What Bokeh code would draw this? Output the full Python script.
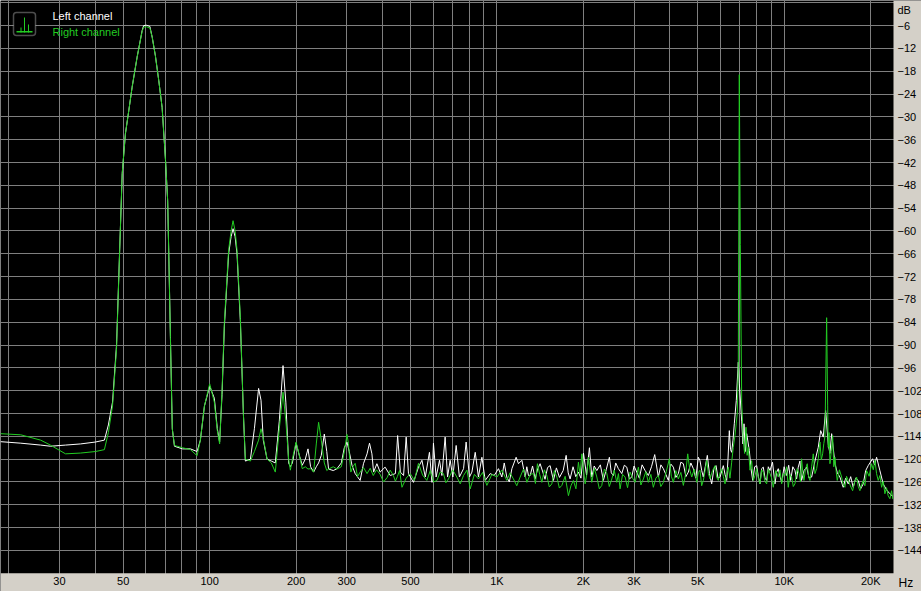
from bokeh.plotting import figure
from bokeh.models import FixedTicker, Label, BoxAnnotation, CustomJSTickFormatter
from bokeh.embed import file_html
from bokeh.resources import INLINE

# ---------------- data ----------------
# Left channel (white), Hz / dB
left_freq = [18.7, 22.0, 25.8, 27.9, 31.5, 35.5, 40.0, 43.0, 44.4, 45.9, 47.4, 48.6, 49.6, 50.9, 52.3,
             53.7, 55.9, 58.2, 58.9, 60.2, 61.9, 63.1, 64.7, 66.5, 68.3, 70.2, 71.4, 72.0, 73.0, 74.1,
             75.4, 80.4, 85.7, 90.4, 92.8, 95.9, 100.0, 103.8, 106.3, 108.3, 110.4, 112.5, 116.4, 118.7,
             120.6, 122.6, 124.5, 127.9, 131.0, 133.1, 138.6, 143.1, 148.0, 150.9, 153.7, 158.4, 163.9,
             169.2, 174.7, 180.0, 184.1, 188.3, 190.9, 194.0, 199.8, 205.1, 210.0, 215.2, 219.9, 224.5,
             230.0, 235.0, 239.4, 244.6, 250.6, 255.6, 259.3, 269.3, 277.4, 287.2, 294.2, 300.6, 306,
             313, 321, 334, 343, 353, 360, 367, 372, 382, 392, 408, 425, 443, 451, 461, 473, 483, 492,
             512, 533, 548, 563, 582, 594, 601, 614, 631, 643, 660, 673, 687, 702, 721, 740, 765, 781,
             802, 818, 840, 862, 886, 910, 947, 978,
             1012, 1040, 1060, 1082, 1104, 1127, 1166, 1188, 1221, 1254, 1270, 1287, 1305, 1330, 1358,
             1385, 1413, 1444, 1470, 1500, 1531, 1572, 1610, 1650, 1700, 1741, 1770, 1797, 1840, 1880,
             1921, 1960, 2000, 2050, 2098, 2138, 2180, 2226, 2290, 2346, 2400, 2462, 2500, 2542, 2590,
             2646, 2719, 2775, 2830, 2890, 2946, 3000, 3066, 3130, 3200, 3278, 3365, 3450, 3541, 3645,
             3720, 3794, 3870, 3950, 4030, 4111, 4195, 4279, 4365, 4454, 4545, 4636, 4730, 4825, 4920,
             5022, 5090, 5160, 5227, 5310, 5397, 5490, 5590, 5690, 5787, 5880, 5975, 6135, 6220, 6304,
             6370, 6438, 6500, 6561, 6630, 6700, 6808, 6918, 6974, 7110, 7180, 7242, 7320, 7400, 7556,
             7660, 7766, 7890, 8017, 8120, 8232, 8340, 8453, 8570, 8686, 8800, 8920, 9100, 9284, 9400,
             9531, 9660, 9794, 9990, 10193, 10360, 10527, 10710, 10894, 11040, 11186, 11340, 11490,
             11720, 11967, 12200, 12454, 12790, 13130, 13390, 13667, 13930, 14223, 14420, 14620, 15011,
             15300, 15620, 16040, 16360, 16696, 17030, 17378, 17730, 18088, 18450, 18828, 19210, 19598,
             20300, 20620, 20960, 21520, 22100, 22710, 23320, 23880]
left_db = [-115.4, -115.8, -116.3, -116.6, -116.3, -116.0, -115.5, -115.0, -111.0, -105.0, -90.0, -65.1,
           -44.9, -34.4, -28.3, -22.2, -14.3, -7.3, -6.0, -5.9, -6.2, -9.1, -13.9, -20.5, -27.5, -41.5,
           -52.0, -65.1, -88.0, -112.0, -116.6, -117.3, -117.3, -118.0, -115.0, -106.0, -100.8, -104.0,
           -112.0, -115.5, -103.0, -85.0, -66.0, -61.5, -59.4, -61.5, -66.0, -84.0, -108.0, -120.5,
           -120.0, -112.0, -101.4, -104.5, -115.0, -120.0, -120.5, -121.0, -110.0, -95.4, -105.0,
           -121.0, -122.0, -121.0, -115.8, -119.0, -121.6, -120.0, -117.3, -122.0, -123.4, -122.0,
           -121.0, -119.0, -113.4, -118.0, -122.6, -123.0, -122.5, -121.0, -117.0, -115.5, -118.0,
           -121.7, -123.8, -125.6, -121.2, -118.6, -115.8, -118.6, -123.4, -121.2, -123.4, -122.1,
           -124.3, -123.8, -113.8, -123.4, -124.3, -114.2, -123.8, -126.1, -122.1, -120.3, -124.7,
           -118.2, -126.1, -115.8, -124.7, -120.3, -124.3, -114.2, -124.7, -120.3, -124.7, -116.4,
           -124.7, -122.5, -115.5, -124.7, -123.4, -118.2, -124.7, -119.5, -125.6, -123.8, -124.3,
           -122.5, -124.7, -121.0, -124.7, -126.0, -122.5, -119.5, -121.2, -120.3, -124.7, -122.0,
           -124.3, -124.3, -121.8, -125.2, -122.6, -121.2, -123.4, -125.3, -122.2, -121.7, -125.6,
           -122.3, -124.8, -123.0, -119.0, -123.6, -125.2, -122.0, -124.6, -123.4, -125.0, -118.4,
           -124.2, -117.0, -124.7, -121.8, -123.0, -121.5, -125.6, -122.8, -119.5, -123.6, -124.3,
           -121.0, -122.5, -123.8, -121.6, -122.1, -125.2, -124.7, -121.8, -123.4, -125.0, -121.5,
           -123.0, -124.3, -122.0, -118.8, -124.7, -121.5, -122.5, -124.0, -125.6, -121.3, -122.1,
           -124.8, -123.8, -120.8, -121.2, -124.6, -123.4, -121.0, -122.5, -125.0, -119.5, -120.4,
           -123.0, -124.7, -122.0, -119.0, -123.8, -126.5, -122.5, -121.7, -125.0, -124.7, -121.7,
           -124.0, -125.6, -120.0, -112.5, -117.5, -118.2, -115.0, -110.7, -104.6, -94.5, -100.0,
           -110.0, -116.0, -110.7, -118.0, -113.3, -117.7, -122.5, -125.6, -122.0, -121.7, -124.5,
           -126.5, -122.5, -122.1, -125.0, -125.6, -122.0, -123.0, -120.8, -126.5, -123.5, -122.5,
           -124.5, -126.1, -122.0, -124.3, -121.6, -125.6, -122.0, -123.0, -125.2, -122.1, -120.5,
           -125.6, -123.0, -122.1, -125.0, -124.7, -120.5, -116.9, -112.5, -114.2, -107.2, -116.0,
           -118.5, -113.3, -121.2, -123.6, -124.7, -127.4, -125.0, -126.5, -124.6, -127.4, -125.0,
           -125.6, -127.8, -126.5, -123.0, -121.7, -119.9, -121.5, -119.5, -123.0, -126.5, -128.1,
           -129.1, -129.8]

# Right channel (green), Hz / dB
right_freq = [18.7, 22.0, 25.8, 27.9, 31.5, 35.5, 40.0, 43.0, 44.4, 45.9, 47.4, 48.6, 49.6, 50.9, 52.3,
              53.7, 55.9, 58.2, 58.9, 60.2, 61.9, 63.1, 64.7, 66.5, 68.3, 70.2, 71.4, 72.0, 73.0, 74.1,
              75.4, 80.4, 85.7, 90.4, 92.8, 95.9, 100.0, 103.8, 106.3, 108.3, 110.4, 112.5, 116.4, 118.7,
              120.6, 122.6, 124.5, 127.9, 131.0, 133.1, 138.6, 143.1, 148.0, 150.9, 153.7, 158.4, 163.9,
              169.2, 174.7, 180.0, 184.1, 188.3, 190.9, 194.0, 199.8, 205.1, 210.0, 215.2, 219.9, 224.5,
              230.0, 235.0, 239.4, 244.6, 250.6, 255.6, 259.3, 269.3, 277.4, 287.2, 294.2, 300.6,
              304, 310, 315, 321, 327, 334, 343, 353, 362, 371, 381, 392, 403, 415, 425, 436, 443, 450,
              458, 467, 483, 499, 516, 533, 551, 570, 586, 602, 618, 634, 651, 664, 678, 701, 725, 745,
              765, 786, 807, 834, 862, 891, 922, 960,
              1000, 1040, 1082, 1110, 1141, 1172, 1204, 1237, 1271, 1305, 1340, 1361, 1383, 1408, 1433,
              1462, 1491, 1521, 1552, 1584, 1616, 1649, 1682, 1727, 1773, 1809, 1845, 1883, 1921, 1947,
              1974, 2000, 2027, 2054, 2081, 2109, 2138, 2182, 2226, 2271, 2317, 2364, 2412, 2460, 2510,
              2560, 2612, 2647, 2682, 2737, 2792, 2848, 2906, 2965, 3025, 3065, 3106, 3169, 3233, 3298,
              3365, 3433, 3502, 3573, 3645, 3719, 3794, 3887, 3981, 4045, 4111, 4194, 4279, 4366, 4454,
              4533, 4613, 4688, 4764, 4860, 4958, 5024, 5090, 5158, 5227, 5298, 5371, 5443, 5515, 5627,
              5741, 5817, 5894, 5975, 6058, 6138, 6220, 6302, 6386, 6472, 6561, 6646, 6737, 6862, 6918,
              6974, 7031, 7110, 7202, 7280, 7359, 7427, 7496, 7598, 7700, 7802, 7909, 8017, 8124, 8232,
              8342, 8453, 8569, 8686, 8802, 8920, 9038, 9157, 9343, 9531, 9662, 9794, 9927, 10060, 10192,
              10325, 10466, 10610, 10751, 10894, 11086, 11277, 11383, 11490, 11600, 11710, 11866, 12023,
              12155, 12287, 12451, 12617, 12790, 12965, 13138, 13312, 13456, 13603, 13729, 13856, 14043,
              14160, 14223, 14320, 14421, 14578, 14737, 14873, 15011, 15150, 15290, 15562, 15838, 16047,
              16258, 16476, 16696, 16994, 17295, 17575, 17858, 18096, 18337, 18581, 18828, 19087, 19349,
              19740, 20137, 20408, 20681, 20955, 21232, 21523, 21818, 22109, 22404, 22700, 22998, 23316,
              23636, 23880]
right_db = [-113.3, -113.6, -115.0, -116.3, -118.6, -118.4, -118.0, -117.5, -113.0, -106.0, -91.0, -65.1,
            -44.9, -34.4, -28.3, -22.2, -14.3, -7.5, -6.4, -6.3, -6.6, -9.1, -13.9, -20.5, -27.5, -41.5,
            -52.0, -65.1, -88.0, -112.0, -116.4, -117.0, -117.5, -119.1, -115.0, -106.0, -100.2, -105.0,
            -112.5, -116.0, -102.0, -84.0, -65.0, -60.0, -57.3, -60.0, -65.0, -83.0, -108.0, -120.0,
            -120.5, -118.0, -115.0, -112.0, -114.5, -120.0, -121.0, -123.4, -112.0, -102.4, -110.0,
            -120.0, -122.9, -120.0, -115.5, -119.0, -122.5, -122.0, -122.6, -122.5, -123.4, -116.0,
            -110.3, -115.0, -121.0, -123.0, -122.6, -122.0, -122.6, -122.0, -118.0, -113.5,
            -115.9, -123.4, -122.0, -121.1, -124.6, -123.4, -122.2, -123.8, -122.4, -124.3, -122.8,
            -124.0, -126.0, -124.8, -122.9, -124.3, -125.8, -124.6, -123.0, -127.4, -125.0, -123.8,
            -125.6, -121.1, -124.2, -125.6, -123.0, -126.0, -125.6, -123.4, -123.8, -126.2, -125.2,
            -122.8, -124.7, -126.5, -124.3, -122.9, -127.8, -124.0, -125.2, -123.5, -126.9, -124.0,
            -124.7, -122.9, -125.6, -123.6, -125.2, -127.0, -124.7, -122.6, -126.1, -124.0, -123.8,
            -126.4, -121.2, -124.0, -126.1, -122.8, -124.3, -127.3, -126.5, -123.0, -124.7, -127.6,
            -126.9, -124.5, -129.6, -127.0, -125.6, -127.8, -120.8, -124.0, -118.6, -122.5, -126.5,
            -124.0, -119.5, -123.0, -126.1, -122.4, -124.7, -127.8, -126.9, -122.6, -123.8, -127.2,
            -125.2, -122.9, -126.1, -123.8, -127.8, -124.0, -124.7, -127.5, -123.4, -125.0, -126.1,
            -124.2, -122.1, -126.8, -125.2, -123.3, -126.1, -124.0, -127.4, -125.0, -124.3, -127.2,
            -126.1, -123.2, -119.9, -124.5, -126.1, -123.0, -125.2, -123.5, -126.9, -124.0, -118.6,
            -122.8, -124.7, -122.6, -126.1, -123.5, -122.9, -127.0, -125.6, -123.2, -120.3, -123.8,
            -125.2, -123.0, -121.7, -124.8, -125.6, -123.6, -122.5, -124.6, -126.5, -123.8, -122.1,
            -125.0, -120.8, -116.9, -113.8, -108.0, -96.0, -18.9, -63.6, -105.0, -115.1, -118.5,
            -111.6, -119.0, -116.9, -122.9, -120.4, -125.6, -124.3, -122.5, -125.0, -126.5, -122.8,
            -123.4, -125.9, -126.5, -122.6, -123.8, -125.0, -127.4, -123.0, -124.7, -122.8, -126.5,
            -123.8, -124.3, -122.0, -127.4, -124.0, -124.7, -127.2, -126.5, -122.5, -123.8, -126.0,
            -119.9, -123.5, -125.6, -122.5, -121.2, -124.6, -125.6, -122.0, -118.6, -123.8, -122.5,
            -119.8, -115.5, -120.2, -118.6, -115.9, -114.0, -82.8, -106.0, -116.9, -113.0, -121.2,
            -118.0, -113.8, -122.0, -119.5, -123.0, -125.6, -122.8, -124.7, -126.8, -127.4, -124.5,
            -125.6, -127.0, -128.3, -126.0, -124.7, -127.2, -128.3, -126.8, -125.6, -127.0, -123.0,
            -124.5, -121.2, -122.8, -120.3, -123.8, -125.6, -124.3, -127.4, -125.8, -129.1, -127.5,
            -129.6, -130.4, -128.3, -130.5]

grid_freqs = [20, 30, 40, 50, 60, 70, 80, 90, 100, 200, 300, 400, 500, 600, 700, 800, 900,
              1000, 2000, 3000, 4000, 5000, 6000, 7000, 8000, 9000, 10000, 20000]
label_freqs = [30, 50, 100, 200, 300, 500, 1000, 2000, 3000, 5000, 10000, 20000]
db_ticks = [-6, -12, -18, -24, -30, -36, -42, -48, -54, -60, -66, -72, -78, -84, -90, -96,
            -102, -108, -114, -120, -126, -132, -138, -144]
db_grid = [0] + db_ticks
F_MAX = 24000      # right edge of the analysed band
DB_MIN = -150      # bottom of the dB scale

GREEN = "#22cc22"
PANEL = "#d4d0c8"
FONT = "Liberation Sans"

# the frame covers the whole canvas; the gray label strips are drawn beyond F_MAX / below DB_MIN
p = figure(width=921, height=591, x_axis_type="log", x_range=(18.7, 30040), y_range=(-154.8, 0.6),
           y_axis_location="right", output_backend="svg", toolbar_location=None,
           min_border_left=0, min_border_top=0, min_border_right=0, min_border_bottom=0)
p.background_fill_color = "black"
p.border_fill_color = PANEL
p.outline_line_color = None

p.xgrid.ticker = FixedTicker(ticks=grid_freqs)
p.ygrid.ticker = FixedTicker(ticks=db_grid)
for g in (p.xgrid, p.ygrid):
    g.grid_line_color = "#7f7f7f"
    g.grid_line_width = 1

# gray strips (right and bottom) behind the axis labels
p.add_layout(BoxAnnotation(left=F_MAX, fill_color=PANEL, fill_alpha=1, line_color=None, level="underlay"))
p.add_layout(BoxAnnotation(top=DB_MIN, fill_color=PANEL, fill_alpha=1, line_color=None, level="underlay"))

p.xaxis.ticker = FixedTicker(ticks=label_freqs)
p.xaxis.formatter = CustomJSTickFormatter(code="return tick >= 1000 ? (tick/1000) + 'K' : String(tick);")
p.xaxis.fixed_location = DB_MIN
p.yaxis.ticker = FixedTicker(ticks=db_ticks)
p.yaxis.fixed_location = F_MAX
for ax in (p.xaxis, p.yaxis):
    ax.axis_line_color = None
    ax.major_tick_line_color = None
    ax.minor_tick_line_color = None
    ax.major_tick_out = 0
    ax.major_tick_in = 0
    ax.major_label_text_font = FONT
    ax.major_label_text_font_size = "11px"
    ax.major_label_text_color = "black"
p.xaxis.major_label_standoff = 2
p.yaxis.major_label_standoff = 4

p.line(left_freq, left_db, line_color="white", line_width=1)
p.line(right_freq, right_db, line_color=GREEN, line_width=1)

# unit labels
p.add_layout(Label(x=897, y=588, x_units="screen", y_units="screen", text="dB", text_baseline="top",
                   text_font=FONT, text_font_size="11px", text_color="black"))
p.add_layout(Label(x=898, y=16, x_units="screen", y_units="screen", text="Hz", text_baseline="top",
                   text_font=FONT, text_font_size="12px", text_color="black"))

# legend icon and texts
p.add_layout(BoxAnnotation(left=13, right=35, bottom=556, top=579, left_units="screen", right_units="screen",
                           bottom_units="screen", top_units="screen", fill_color="black", fill_alpha=1,
                           line_color="white", line_width=1.5, border_radius=3))
for (l, r, b, t) in [(16, 32, 559, 560.5), (23.5, 24.5, 559, 574), (20, 21, 559, 564), (27.5, 28.5, 559, 567)]:
    p.add_layout(BoxAnnotation(left=l, right=r, bottom=b, top=t, left_units="screen", right_units="screen",
                               bottom_units="screen", top_units="screen", fill_color=GREEN, fill_alpha=1,
                               line_color=None))
p.add_layout(Label(x=52, y=576, x_units="screen", y_units="screen", text="Left channel",
                   text_baseline="middle", text_font=FONT, text_font_size="11px", text_color="white"))
p.add_layout(Label(x=52, y=560, x_units="screen", y_units="screen", text="Right channel",
                   text_baseline="middle", text_font=FONT, text_font_size="11px", text_color=GREEN))

open("out.html", "w").write(file_html(p, INLINE))
